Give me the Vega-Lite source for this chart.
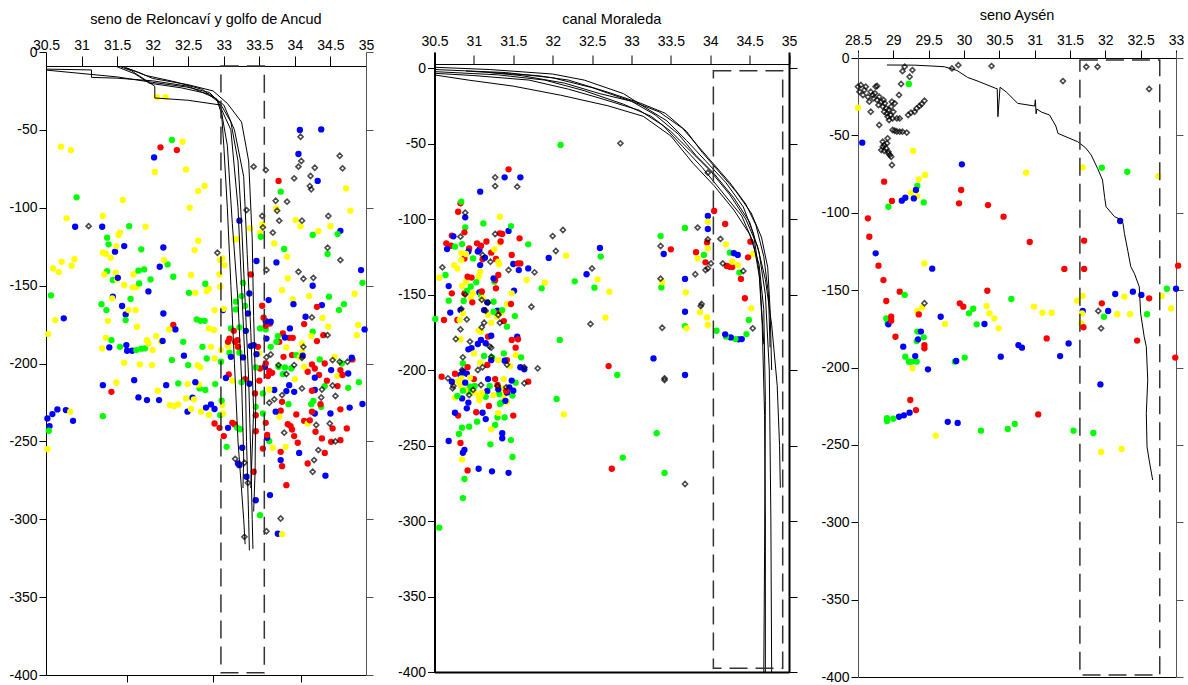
{
"$schema":"https://vega.github.io/schema/vega-lite/v6.json",
"padding":{"left":8,"top":7,"right":5,"bottom":0},
"spacing":68.5,
"bounds":"flush",
"config":{"view":{"stroke":null},"font":"Liberation Sans",
"axis":{"labelFont":"Liberation Sans","labelFontSize":14,"labelColor":"black","domainColor":"black","tickColor":"black","grid":false,"labelFlush":false,"labelOverlap":false,"domainWidth":1,"tickWidth":1},
"title":{"font":"Liberation Sans","fontSize":14.5,"fontWeight":"normal","color":"black","anchor":"middle"}},
"datasets":{
"p1r":[{"s":32.96,"s2":33.57,"d":-9,"d2":-398.6}],
"p2r":[{"s":34.04,"s2":34.92,"d":-1.8,"d2":-397.5}],
"p3r":[{"s":31.64,"s2":32.77,"d":-1.3,"d2":-398.7}],
"p1l":[
{"id":"A","i":1,"s":30.5,"d":-11},{"id":"A","i":2,"s":31.14,"d":-11.5},{"id":"A","i":3,"s":31.14,"d":-16.3},{"id":"A","i":4,"s":31.5,"d":-16.8},{"id":"A","i":5,"s":32.0,"d":-18.5},{"id":"A","i":6,"s":32.5,"d":-22},{"id":"A","i":7,"s":32.9,"d":-30},{"id":"A","i":8,"s":32.97,"d":-40},{"id":"A","i":9,"s":33.0,"d":-60},{"id":"A","i":10,"s":33.05,"d":-100},{"id":"A","i":11,"s":33.1,"d":-150},{"id":"A","i":12,"s":33.15,"d":-200},{"id":"A","i":13,"s":33.2,"d":-250},{"id":"A","i":14,"s":33.28,"d":-300},{"id":"A","i":15,"s":33.3,"d":-316},
{"id":"B","i":1,"s":30.5,"d":-11.6},{"id":"B","i":2,"s":31.5,"d":-16},{"id":"B","i":3,"s":32.0,"d":-19.5},{"id":"B","i":4,"s":32.48,"d":-22.5},{"id":"B","i":5,"s":32.8,"d":-26},{"id":"B","i":6,"s":32.95,"d":-33},{"id":"B","i":7,"s":33.1,"d":-45},{"id":"B","i":8,"s":33.2,"d":-70},{"id":"B","i":9,"s":33.25,"d":-110},{"id":"B","i":10,"s":33.3,"d":-160},{"id":"B","i":11,"s":33.35,"d":-210},{"id":"B","i":12,"s":33.38,"d":-260},{"id":"B","i":13,"s":33.4,"d":-300},{"id":"B","i":14,"s":33.41,"d":-319},
{"id":"C","i":1,"s":31.5,"d":-9.5},{"id":"C","i":2,"s":31.75,"d":-14},{"id":"C","i":3,"s":31.95,"d":-20},{"id":"C","i":4,"s":32.4,"d":-23},{"id":"C","i":5,"s":32.8,"d":-27},{"id":"C","i":6,"s":33.0,"d":-34},{"id":"C","i":7,"s":33.15,"d":-50},{"id":"C","i":8,"s":33.28,"d":-80},{"id":"C","i":9,"s":33.33,"d":-130},{"id":"C","i":10,"s":33.38,"d":-180},{"id":"C","i":11,"s":33.42,"d":-230},{"id":"C","i":12,"s":33.38,"d":-280},
{"id":"D","i":1,"s":31.6,"d":-10},{"id":"D","i":2,"s":31.8,"d":-13},{"id":"D","i":3,"s":32.0,"d":-17},{"id":"D","i":4,"s":32.5,"d":-21},{"id":"D","i":5,"s":32.85,"d":-25},{"id":"D","i":6,"s":33.05,"d":-33},{"id":"D","i":7,"s":33.25,"d":-45},{"id":"D","i":8,"s":33.35,"d":-70},{"id":"D","i":9,"s":33.4,"d":-120},{"id":"D","i":10,"s":33.42,"d":-170},{"id":"D","i":11,"s":33.45,"d":-220},{"id":"D","i":12,"s":33.44,"d":-270},{"id":"D","i":13,"s":33.42,"d":-295},
{"id":"E","i":1,"s":31.55,"d":-9.5},{"id":"E","i":2,"s":31.7,"d":-12},{"id":"E","i":3,"s":31.9,"d":-18},{"id":"E","i":4,"s":32.03,"d":-22},{"id":"E","i":5,"s":32.03,"d":-29.5},{"id":"E","i":6,"s":32.5,"d":-31},{"id":"E","i":7,"s":32.95,"d":-34},{"id":"E","i":8,"s":33.05,"d":-60},{"id":"E","i":9,"s":33.12,"d":-110},{"id":"E","i":10,"s":33.2,"d":-160},{"id":"E","i":11,"s":33.25,"d":-210},{"id":"E","i":12,"s":33.28,"d":-260},{"id":"E","i":13,"s":33.27,"d":-280},
{"id":"F","i":1,"s":31.62,"d":-10},{"id":"F","i":2,"s":31.9,"d":-15},{"id":"F","i":3,"s":32.3,"d":-19},{"id":"F","i":4,"s":32.7,"d":-24},{"id":"F","i":5,"s":32.92,"d":-32},{"id":"F","i":6,"s":33.1,"d":-50},{"id":"F","i":7,"s":33.2,"d":-100},{"id":"F","i":8,"s":33.25,"d":-150},{"id":"F","i":9,"s":33.3,"d":-200},{"id":"F","i":10,"s":33.32,"d":-250},{"id":"F","i":11,"s":33.35,"d":-300},{"id":"F","i":12,"s":33.36,"d":-320}
],
"p2l":[
{"id":"a","i":1,"s":30.5,"d":0.5},{"id":"a","i":2,"s":31.2,"d":-1},{"id":"a","i":3,"s":32.0,"d":-4},{"id":"a","i":4,"s":32.4,"d":-8},{"id":"a","i":5,"s":32.9,"d":-17},{"id":"a","i":6,"s":33.2,"d":-27},{"id":"a","i":7,"s":33.45,"d":-35},{"id":"a","i":8,"s":33.7,"d":-48},{"id":"a","i":9,"s":33.95,"d":-62},{"id":"a","i":10,"s":34.2,"d":-76},{"id":"a","i":11,"s":34.42,"d":-92},{"id":"a","i":12,"s":34.55,"d":-110},{"id":"a","i":13,"s":34.62,"d":-135},{"id":"a","i":14,"s":34.66,"d":-170},{"id":"a","i":15,"s":34.69,"d":-230},{"id":"a","i":16,"s":34.7,"d":-300},{"id":"a","i":17,"s":34.7,"d":-400},
{"id":"b","i":1,"s":30.5,"d":-1},{"id":"b","i":2,"s":31.4,"d":-3},{"id":"b","i":3,"s":32.0,"d":-6.5},{"id":"b","i":4,"s":32.5,"d":-13},{"id":"b","i":5,"s":33.0,"d":-22},{"id":"b","i":6,"s":33.3,"d":-31},{"id":"b","i":7,"s":33.6,"d":-44},{"id":"b","i":8,"s":33.82,"d":-58},{"id":"b","i":9,"s":34.05,"d":-70},{"id":"b","i":10,"s":34.3,"d":-86},{"id":"b","i":11,"s":34.5,"d":-102},{"id":"b","i":12,"s":34.62,"d":-122},{"id":"b","i":13,"s":34.7,"d":-150},{"id":"b","i":14,"s":34.75,"d":-200},{"id":"b","i":15,"s":34.77,"d":-300},{"id":"b","i":16,"s":34.78,"d":-400},
{"id":"c","i":1,"s":30.5,"d":-2.4},{"id":"c","i":2,"s":31.3,"d":-4.5},{"id":"c","i":3,"s":31.9,"d":-8},{"id":"c","i":4,"s":32.4,"d":-15},{"id":"c","i":5,"s":32.9,"d":-24},{"id":"c","i":6,"s":33.25,"d":-32},{"id":"c","i":7,"s":33.5,"d":-42},{"id":"c","i":8,"s":33.75,"d":-55},{"id":"c","i":9,"s":34.0,"d":-68},{"id":"c","i":10,"s":34.25,"d":-84},{"id":"c","i":11,"s":34.45,"d":-100},{"id":"c","i":12,"s":34.6,"d":-118},{"id":"c","i":13,"s":34.7,"d":-140},{"id":"c","i":14,"s":34.78,"d":-170},{"id":"c","i":15,"s":34.85,"d":-210},{"id":"c","i":16,"s":34.88,"d":-250},{"id":"c","i":17,"s":34.89,"d":-278},
{"id":"d","i":1,"s":30.5,"d":-3.5},{"id":"d","i":2,"s":31.0,"d":-5},{"id":"d","i":3,"s":31.7,"d":-8},{"id":"d","i":4,"s":32.2,"d":-14},{"id":"d","i":5,"s":32.6,"d":-20},{"id":"d","i":6,"s":33.1,"d":-28},{"id":"d","i":7,"s":33.4,"d":-38},{"id":"d","i":8,"s":33.65,"d":-52},{"id":"d","i":9,"s":33.9,"d":-66},{"id":"d","i":10,"s":34.15,"d":-82},{"id":"d","i":11,"s":34.4,"d":-98},{"id":"d","i":12,"s":34.55,"d":-116},{"id":"d","i":13,"s":34.63,"d":-140},{"id":"d","i":14,"s":34.68,"d":-183},
{"id":"e","i":1,"s":30.5,"d":-4.6},{"id":"e","i":2,"s":30.93,"d":-8},{"id":"e","i":3,"s":31.5,"d":-12},{"id":"e","i":4,"s":32.1,"d":-18},{"id":"e","i":5,"s":32.7,"d":-25},{"id":"e","i":6,"s":33.15,"d":-32},{"id":"e","i":7,"s":33.5,"d":-45},{"id":"e","i":8,"s":33.78,"d":-63},{"id":"e","i":9,"s":34.05,"d":-78},{"id":"e","i":10,"s":34.3,"d":-94},{"id":"e","i":11,"s":34.5,"d":-110},{"id":"e","i":12,"s":34.62,"d":-130},{"id":"e","i":13,"s":34.68,"d":-160},{"id":"e","i":14,"s":34.7,"d":-220},{"id":"e","i":15,"s":34.69,"d":-320},{"id":"e","i":16,"s":34.68,"d":-400},
{"id":"f","i":1,"s":30.9,"d":-2},{"id":"f","i":2,"s":31.8,"d":-5},{"id":"f","i":3,"s":32.2,"d":-8},{"id":"f","i":4,"s":32.7,"d":-16},{"id":"f","i":5,"s":33.1,"d":-23},{"id":"f","i":6,"s":33.43,"d":-30},{"id":"f","i":7,"s":33.7,"d":-42},{"id":"f","i":8,"s":33.9,"d":-56},{"id":"f","i":9,"s":34.1,"d":-68},{"id":"f","i":10,"s":34.33,"d":-82},{"id":"f","i":11,"s":34.52,"d":-96},{"id":"f","i":12,"s":34.65,"d":-112},{"id":"f","i":13,"s":34.73,"d":-132},{"id":"f","i":14,"s":34.76,"d":-160},{"id":"f","i":15,"s":34.78,"d":-200},
{"id":"g","i":1,"s":31.2,"d":-3},{"id":"g","i":2,"s":31.6,"d":-5},{"id":"g","i":3,"s":32.15,"d":-10},{"id":"g","i":4,"s":32.6,"d":-17},{"id":"g","i":5,"s":33.0,"d":-22},{"id":"g","i":6,"s":33.35,"d":-29},{"id":"g","i":7,"s":33.65,"d":-40},{"id":"g","i":8,"s":33.85,"d":-52},{"id":"g","i":9,"s":34.0,"d":-61},{"id":"g","i":10,"s":34.25,"d":-76},{"id":"g","i":11,"s":34.45,"d":-90},{"id":"g","i":12,"s":34.58,"d":-104},{"id":"g","i":13,"s":34.68,"d":-125},{"id":"g","i":14,"s":34.74,"d":-150},{"id":"g","i":15,"s":34.76,"d":-185}
],
"p3l":[
{"id":"a","i":1,"s":28.91,"d":-4.5},{"id":"a","i":2,"s":29.3,"d":-4.6},{"id":"a","i":3,"s":29.72,"d":-5.6},{"id":"a","i":4,"s":29.9,"d":-8},{"id":"a","i":5,"s":30.05,"d":-12.5},{"id":"a","i":6,"s":30.2,"d":-15},{"id":"a","i":7,"s":30.45,"d":-19.6},{"id":"a","i":8,"s":30.47,"d":-19.8},{"id":"a","i":9,"s":30.48,"d":-37.9},{"id":"a","i":10,"s":30.51,"d":-18.9},{"id":"a","i":11,"s":30.6,"d":-22},{"id":"a","i":12,"s":30.76,"d":-29.3},{"id":"a","i":13,"s":31.0,"d":-31},{"id":"a","i":14,"s":31.01,"d":-27},{"id":"a","i":15,"s":31.02,"d":-36},{"id":"a","i":16,"s":31.03,"d":-33},{"id":"a","i":17,"s":31.1,"d":-35},{"id":"a","i":18,"s":31.21,"d":-36.8},{"id":"a","i":19,"s":31.3,"d":-44},{"id":"a","i":20,"s":31.33,"d":-48.7},{"id":"a","i":21,"s":31.5,"d":-52},{"id":"a","i":22,"s":31.61,"d":-54.1},{"id":"a","i":23,"s":31.72,"d":-58},{"id":"a","i":24,"s":31.8,"d":-62.7},{"id":"a","i":25,"s":31.89,"d":-71.3},{"id":"a","i":26,"s":31.96,"d":-78.8},{"id":"a","i":27,"s":31.99,"d":-90},{"id":"a","i":28,"s":32.01,"d":-96.1},{"id":"a","i":29,"s":32.13,"d":-102.5},{"id":"a","i":30,"s":32.2,"d":-104},{"id":"a","i":31,"s":32.25,"d":-106.8},{"id":"a","i":32,"s":32.27,"d":-113.3},{"id":"a","i":33,"s":32.32,"d":-125},{"id":"a","i":34,"s":32.36,"d":-134.8},{"id":"a","i":35,"s":32.41,"d":-139.1},{"id":"a","i":36,"s":32.48,"d":-147.8},{"id":"a","i":37,"s":32.5,"d":-165},{"id":"a","i":38,"s":32.55,"d":-180.1},{"id":"a","i":39,"s":32.58,"d":-186.5},{"id":"a","i":40,"s":32.6,"d":-208},{"id":"a","i":41,"s":32.58,"d":-229.7},{"id":"a","i":42,"s":32.59,"d":-251.2},{"id":"a","i":43,"s":32.62,"d":-259.8},{"id":"a","i":44,"s":32.67,"d":-272.7}
],
"p1p":[
{"s":32.06,"d":-29,"c":"y"},{"s":32.18,"d":-29,"c":"y"},{"s":30.71,"d":-60.8,"c":"y"},{"s":30.85,"d":-63,"c":"y"},{"s":32.27,"d":-56.5,"c":"g"},{"s":32.11,"d":-61.2,"c":"r"},{"s":32.34,"d":-63,"c":"r"},{"s":32.42,"d":-57.6,"c":"y"},{"s":32.02,"d":-67.7,"c":"b"},{"s":32.03,"d":-77,"c":"y"},{"s":32.47,"d":-75.4,"c":"y"},{"s":32.64,"d":-89.3,"c":"y"},{"s":32.73,"d":-86,"c":"y"},{"s":32.52,"d":-100,"c":"y"},{"s":30.93,"d":-93.3,"c":"g"},{"s":31.58,"d":-95,"c":"y"},{"s":30.79,"d":-106.8,"c":"y"},{"s":30.91,"d":-112.2,"c":"b"},{"s":31.1,"d":-111.8,"c":"k"},{"s":31.29,"d":-112.2,"c":"b"},{"s":31.3,"d":-105.3,"c":"y"},{"s":31.67,"d":-111.8,"c":"g"},{"s":31.9,"d":-112.2,"c":"y"},{"s":31.36,"d":-119.2,"c":"g"},{"s":31.38,"d":-123.5,"c":"g"},{"s":31.3,"d":-128.9,"c":"y"},{"s":31.34,"d":-129.5,"c":"y"},{"s":31.47,"d":-128.2,"c":"b"},{"s":31.49,"d":-124.6,"c":"y"},{"s":31.54,"d":-116,"c":"y"},{"s":31.52,"d":-117.5,"c":"y"},{"s":31.6,"d":-124.6,"c":"b"},{"s":31.84,"d":-126.7,"c":"g"},{"s":31.41,"d":-132.1,"c":"y"},{"s":32.15,"d":-125.5,"c":"b"},{"s":32.21,"d":-136.4,"c":"g"},{"s":32.16,"d":-133.6,"c":"y"},{"s":32.1,"d":-137.9,"c":"b"},{"s":32.59,"d":-127.2,"c":"y"},{"s":32.64,"d":-121.2,"c":"y"},{"s":30.6,"d":-139,"c":"y"},{"s":30.68,"d":-141.3,"c":"y"},{"s":30.72,"d":-134.7,"c":"y"},{"s":30.9,"d":-133,"c":"y"},{"s":30.86,"d":-137.2,"c":"y"},{"s":30.57,"d":-156.3,"c":"g"},{"s":30.75,"d":-171,"c":"b"},{"s":30.63,"d":-172.1,"c":"y"},{"s":30.53,"d":-181.1,"c":"y"},{"s":31.36,"d":-140.7,"c":"g"},{"s":31.44,"d":-146.4,"c":"g"},{"s":31.32,"d":-142.8,"c":"y"},{"s":31.5,"d":-146,"c":"y"},{"s":31.48,"d":-141.7,"c":"y"},{"s":31.51,"d":-145,"c":"b"},{"s":31.6,"d":-149.6,"c":"y"},{"s":31.73,"d":-142.8,"c":"y"},{"s":31.8,"d":-140.4,"c":"g"},{"s":31.88,"d":-139.6,"c":"g"},{"s":31.72,"d":-151.1,"c":"y"},{"s":31.77,"d":-151.1,"c":"y"},{"s":31.81,"d":-148.6,"c":"g"},{"s":31.97,"d":-146,"c":"g"},{"s":31.94,"d":-153.7,"c":"b"},{"s":32.29,"d":-144.3,"c":"g"},{"s":32.54,"d":-143.2,"c":"y"},{"s":32.51,"d":-154.6,"c":"g"},{"s":32.6,"d":-154.6,"c":"y"},{"s":32.76,"d":-153.5,"c":"y"},{"s":32.79,"d":-152,"c":"y"},{"s":32.74,"d":-148.8,"c":"g"},{"s":32.95,"d":-150.7,"c":"y"},{"s":32.94,"d":-142.8,"c":"y"},{"s":32.95,"d":-133.6,"c":"y"},{"s":32.98,"d":-132.5,"c":"y"},{"s":33.01,"d":-136.8,"c":"y"},{"s":32.91,"d":-128.9,"c":"k"},{"s":33.15,"d":-120.3,"c":"y"},{"s":33.19,"d":-120.3,"c":"y"},{"s":33.22,"d":-108.3,"c":"b"},{"s":33.37,"d":-113.2,"c":"y"},{"s":33.51,"d":-116,"c":"y"},{"s":33.46,"d":-134.2,"c":"b"},{"s":33.38,"d":-142.8,"c":"r"},{"s":33.54,"d":-110.7,"c":"y"},{"s":33.52,"d":-118.6,"c":"g"},{"s":33.32,"d":-101.5,"c":"k"},{"s":33.42,"d":-73.6,"c":"k"},{"s":33.59,"d":-75.8,"c":"k"},{"s":33.55,"d":-112.6,"c":"k"},{"s":33.54,"d":-105.3,"c":"k"},{"s":33.6,"d":-140,"c":"k"},{"s":33.77,"d":-82.8,"c":"r"},{"s":33.8,"d":-89.7,"c":"g"},{"s":33.73,"d":-95.5,"c":"k"},{"s":33.89,"d":-96.1,"c":"k"},{"s":33.74,"d":-100.4,"c":"y"},{"s":33.75,"d":-101.9,"c":"k"},{"s":33.78,"d":-108.3,"c":"k"},{"s":33.69,"d":-116,"c":"k"},{"s":33.71,"d":-122.9,"c":"y"},{"s":33.74,"d":-135.1,"c":"b"},{"s":33.85,"d":-126.5,"c":"g"},{"s":33.89,"d":-131.4,"c":"y"},{"s":33.9,"d":-145.4,"c":"y"},{"s":33.82,"d":-152.9,"c":"y"},{"s":34.07,"d":-50.1,"c":"b"},{"s":34.37,"d":-49.7,"c":"b"},{"s":34.08,"d":-54.4,"c":"k"},{"s":34.05,"d":-65.5,"c":"b"},{"s":34.05,"d":-73.6,"c":"k"},{"s":34.09,"d":-70,"c":"k"},{"s":33.99,"d":-81.1,"c":"k"},{"s":34.22,"d":-79.6,"c":"k"},{"s":34.28,"d":-74.3,"c":"k"},{"s":34.21,"d":-86.1,"c":"k"},{"s":34.23,"d":-88.2,"c":"k"},{"s":34.32,"d":-82.8,"c":"b"},{"s":34.63,"d":-66.6,"c":"k"},{"s":34.67,"d":-74.7,"c":"k"},{"s":34.72,"d":-87.6,"c":"y"},{"s":34.78,"d":-101.9,"c":"y"},{"s":34.1,"d":-108.3,"c":"k"},{"s":34.01,"d":-107.9,"c":"y"},{"s":34.08,"d":-111.8,"c":"y"},{"s":34.47,"d":-105.3,"c":"k"},{"s":34.5,"d":-111.8,"c":"y"},{"s":34.33,"d":-115,"c":"y"},{"s":34.25,"d":-117.5,"c":"g"},{"s":34.64,"d":-114.8,"c":"b"},{"s":34.6,"d":-116.9,"c":"g"},{"s":34.46,"d":-125.7,"c":"k"},{"s":34.46,"d":-129.7,"c":"g"},{"s":34.64,"d":-133.6,"c":"k"},{"s":34.05,"d":-141.1,"c":"k"},{"s":34.12,"d":-145.6,"c":"k"},{"s":34.26,"d":-145,"c":"k"},{"s":34.25,"d":-150.1,"c":"b"},{"s":34.2,"d":-156.7,"c":"y"},{"s":34.38,"d":-162.5,"c":"b"},{"s":34.31,"d":-163.6,"c":"r"},{"s":34.48,"d":-157.1,"c":"g"},{"s":34.62,"d":-165.7,"c":"g"},{"s":34.69,"d":-161.9,"c":"g"},{"s":34.84,"d":-155.2,"c":"y"},{"s":34.95,"d":-148.2,"c":"g"},{"s":34.93,"d":-140,"c":"b"},{"s":33.97,"d":-158.9,"c":"y"},{"s":33.98,"d":-161.9,"c":"b"},{"s":33.63,"d":-159.3,"c":"b"},{"s":34.24,"d":-170.4,"c":"k"},{"s":34.15,"d":-170,"c":"b"},{"s":34.39,"d":-170.8,"c":"y"},{"s":34.13,"d":-174.7,"c":"r"},{"s":34.47,"d":-176.4,"c":"y"},{"s":34.89,"d":-175.3,"c":"y"},{"s":34.87,"d":-181.8,"c":"y"},{"s":34.98,"d":-178.1,"c":"b"},{"s":34.46,"d":-181.8,"c":"k"},{"s":34.4,"d":-181.8,"c":"r"},{"s":34.31,"d":-185.6,"c":"r"},{"s":34.25,"d":-179.6,"c":"g"},{"s":34.23,"d":-182.4,"c":"y"},{"s":34.1,"d":-187.1,"c":"y"},{"s":34.12,"d":-189.3,"c":"k"},
{"s":31.28,"d":-161.9,"c":"g"},{"s":31.35,"d":-165.7,"c":"g"},{"s":31.44,"d":-157.1,"c":"b"},{"s":31.43,"d":-158.2,"c":"y"},{"s":31.57,"d":-163.1,"c":"b"},{"s":31.62,"d":-168.5,"c":"b"},{"s":31.62,"d":-172.1,"c":"g"},{"s":31.66,"d":-165.7,"c":"y"},{"s":31.76,"d":-165.7,"c":"y"},{"s":31.69,"d":-158.6,"c":"g"},{"s":32.15,"d":-167.9,"c":"b"},{"s":31.37,"d":-172.6,"c":"y"},{"s":31.78,"d":-176.4,"c":"y"},{"s":31.34,"d":-183.5,"c":"y"},{"s":31.29,"d":-190.3,"c":"y"},{"s":31.42,"d":-185,"c":"g"},{"s":31.39,"d":-189.7,"c":"b"},{"s":31.54,"d":-189.3,"c":"g"},{"s":31.63,"d":-188.2,"c":"b"},{"s":31.64,"d":-191.8,"c":"b"},{"s":31.6,"d":-199.5,"c":"y"},{"s":31.71,"d":-191.8,"c":"b"},{"s":31.77,"d":-191.4,"c":"g"},{"s":31.84,"d":-190.5,"c":"g"},{"s":31.89,"d":-190.3,"c":"g"},{"s":31.92,"d":-185,"c":"y"},{"s":31.94,"d":-187.1,"c":"y"},{"s":32.05,"d":-182.4,"c":"y"},{"s":32.0,"d":-191.4,"c":"y"},{"s":31.82,"d":-200.6,"c":"y"},{"s":31.99,"d":-201,"c":"y"},{"s":32.29,"d":-175.3,"c":"r"},{"s":32.32,"d":-178.1,"c":"b"},{"s":32.23,"d":-178.1,"c":"y"},{"s":32.12,"d":-186.1,"c":"y"},{"s":32.14,"d":-185.5,"c":"b"},{"s":32.43,"d":-186.1,"c":"g"},{"s":32.27,"d":-197.8,"c":"g"},{"s":32.44,"d":-195,"c":"b"},{"s":32.5,"d":-201,"c":"g"},{"s":32.63,"d":-201,"c":"y"},{"s":32.67,"d":-202.5,"c":"y"},{"s":32.62,"d":-171.7,"c":"g"},{"s":32.67,"d":-172.6,"c":"g"},{"s":32.73,"d":-172.6,"c":"g"},{"s":32.7,"d":-189.3,"c":"g"},{"s":32.79,"d":-177.5,"c":"y"},{"s":32.82,"d":-189.3,"c":"y"},{"s":32.86,"d":-178.5,"c":"y"},{"s":32.76,"d":-196.8,"c":"g"},{"s":32.87,"d":-196.8,"c":"y"},{"s":32.96,"d":-191.4,"c":"y"},{"s":32.96,"d":-198.9,"c":"g"},{"s":32.99,"d":-165.7,"c":"b"},{"s":33.0,"d":-164.9,"c":"y"},{"s":32.87,"d":-165.7,"c":"y"},{"s":33.1,"d":-177.5,"c":"g"},{"s":33.17,"d":-165.3,"c":"g"},{"s":33.06,"d":-188.8,"c":"y"},{"s":33.19,"d":-189.3,"c":"y"},{"s":33.19,"d":-185,"c":"r"},{"s":33.16,"d":-186.1,"c":"r"},{"s":33.06,"d":-186.1,"c":"r"},{"s":33.2,"d":-189.3,"c":"r"},{"s":33.08,"d":-193.1,"c":"g"},{"s":33.22,"d":-193.1,"c":"g"},{"s":33.27,"d":-196.1,"c":"b"},
{"s":33.78,"d":-186.1,"c":"r"},{"s":33.83,"d":-180.7,"c":"r"},{"s":33.92,"d":-183.5,"c":"r"},{"s":33.97,"d":-183.5,"c":"r"},{"s":33.86,"d":-183.3,"c":"b"},{"s":33.93,"d":-177.5,"c":"b"},{"s":33.76,"d":-182.4,"c":"g"},{"s":33.74,"d":-186.1,"c":"g"},{"s":33.66,"d":-189.3,"c":"g"},{"s":33.6,"d":-184,"c":"b"},{"s":33.59,"d":-178.1,"c":"g"},{"s":33.65,"d":-174.3,"c":"r"},{"s":33.66,"d":-173.2,"c":"b"},{"s":33.59,"d":-175.8,"c":"r"},{"s":33.59,"d":-172.8,"c":"b"},{"s":33.56,"d":-170.6,"c":"r"},{"s":33.54,"d":-162.9,"c":"r"},{"s":33.51,"d":-177.5,"c":"g"},{"s":33.5,"d":-193.5,"c":"y"},{"s":33.66,"d":-194.2,"c":"k"},{"s":33.84,"d":-195.7,"c":"r"},{"s":33.88,"d":-189.7,"c":"y"},{"s":33.96,"d":-194.6,"c":"r"},{"s":34.02,"d":-194.6,"c":"g"},{"s":34.07,"d":-196.1,"c":"y"},{"s":34.1,"d":-192.5,"c":"y"},{"s":34.11,"d":-195,"c":"b"},{"s":33.86,"d":-202.5,"c":"g"},{"s":33.77,"d":-202.1,"c":"g"},{"s":33.83,"d":-206.8,"c":"g"},{"s":33.68,"d":-206,"c":"r"},{"s":33.64,"d":-204.9,"c":"r"},{"s":33.58,"d":-202.1,"c":"b"},{"s":33.62,"d":-208.1,"c":"r"},{"s":33.59,"d":-200,"c":"r"},{"s":33.6,"d":-196,"c":"k"},{"s":33.77,"d":-201,"c":"k"},{"s":33.88,"d":-206.8,"c":"k"},{"s":33.99,"d":-201,"c":"k"},{"s":33.95,"d":-203.2,"c":"g"},{"s":34.1,"d":-196.3,"c":"k"},{"s":34.24,"d":-200.6,"c":"r"},{"s":34.28,"d":-203.2,"c":"r"},{"s":34.18,"d":-205.3,"c":"r"},{"s":34.13,"d":-202.1,"c":"y"},{"s":34.34,"d":-207.4,"c":"r"},{"s":34.28,"d":-209.1,"c":"b"},{"s":34.35,"d":-197.4,"c":"g"},{"s":34.42,"d":-200,"c":"r"},{"s":34.51,"d":-204.2,"c":"b"},{"s":34.53,"d":-197.8,"c":"k"},{"s":34.63,"d":-198.9,"c":"k"},{"s":34.56,"d":-195.7,"c":"y"},{"s":34.81,"d":-197.4,"c":"r"},{"s":34.8,"d":-196.3,"c":"b"},{"s":34.66,"d":-200,"c":"g"},{"s":34.74,"d":-198.9,"c":"k"},{"s":34.64,"d":-204.2,"c":"r"},{"s":34.6,"d":-208.1,"c":"y"},{"s":34.67,"d":-207.4,"c":"r"},{"s":34.75,"d":-206.4,"c":"b"},{"s":33.22,"d":-176.8,"c":"g"},{"s":33.14,"d":-179,"c":"r"},{"s":33.08,"d":-184.1,"c":"r"},{"s":33.1,"d":-195.7,"c":"b"},{"s":33.07,"d":-207,"c":"r"},{"s":33.03,"d":-209.3,"c":"b"},{"s":33.31,"d":-179,"c":"b"},{"s":33.34,"d":-167.9,"c":"b"},{"s":33.25,"d":-156.7,"c":"g"},{"s":33.36,"d":-155,"c":"b"},{"s":33.27,"d":-148.3,"c":"g"},{"s":33.3,"d":-163.1,"c":"g"},{"s":33.17,"d":-160.3,"c":"g"},{"s":33.38,"d":-188.8,"c":"b"},{"s":33.48,"d":-189.3,"c":"r"},{"s":33.42,"d":-188.2,"c":"b"},{"s":33.51,"d":-203.2,"c":"r"},{"s":33.45,"d":-202.5,"c":"g"},{"s":33.46,"d":-194,"c":"b"},
{"s":31.3,"d":-213.9,"c":"b"},{"s":31.49,"d":-212.2,"c":"y"},{"s":31.42,"d":-218.2,"c":"r"},{"s":31.74,"d":-210.7,"c":"b"},{"s":31.8,"d":-221.8,"c":"b"},{"s":31.92,"d":-223.5,"c":"b"},{"s":32.09,"d":-223.5,"c":"b"},{"s":32.07,"d":-217.5,"c":"y"},{"s":32.19,"d":-213.9,"c":"b"},{"s":32.36,"d":-212.8,"c":"g"},{"s":32.49,"d":-213.2,"c":"y"},{"s":32.24,"d":-226.7,"c":"y"},{"s":32.3,"d":-227.3,"c":"y"},{"s":32.36,"d":-226.3,"c":"y"},{"s":32.47,"d":-222.4,"c":"y"},{"s":32.56,"d":-222,"c":"b"},{"s":32.58,"d":-223.1,"c":"y"},{"s":32.49,"d":-230.9,"c":"b"},{"s":32.54,"d":-229.2,"c":"y"},{"s":32.68,"d":-230.9,"c":"y"},{"s":32.75,"d":-228.3,"c":"b"},{"s":32.82,"d":-226.3,"c":"b"},{"s":32.87,"d":-229.2,"c":"b"},{"s":32.79,"d":-233,"c":"y"},{"s":32.66,"d":-216,"c":"g"},{"s":32.74,"d":-217,"c":"g"},{"s":32.65,"d":-213.6,"c":"y"},{"s":32.6,"d":-212,"c":"b"},{"s":32.88,"d":-213.2,"c":"g"},{"s":32.95,"d":-233.2,"c":"g"},{"s":32.87,"d":-238.5,"c":"r"},{"s":32.94,"d":-241.3,"c":"r"},{"s":33.0,"d":-246.6,"c":"r"},{"s":33.04,"d":-253.5,"c":"g"},{"s":32.99,"d":-232.1,"c":"y"},{"s":32.98,"d":-226.7,"c":"y"},{"s":32.97,"d":-223.8,"c":"g"},{"s":33.06,"d":-241.3,"c":"b"},{"s":33.12,"d":-238.1,"c":"r"},{"s":33.15,"d":-239,"c":"r"},{"s":33.19,"d":-241.3,"c":"g"},{"s":33.23,"d":-242.2,"c":"g"},{"s":33.26,"d":-254.1,"c":"b"},{"s":33.2,"d":-264.2,"c":"b"},{"s":33.22,"d":-265.3,"c":"b"},{"s":33.16,"d":-261.2,"c":"k"},{"s":33.29,"d":-263.7,"c":"k"},{"s":33.32,"d":-272.7,"c":"b"},{"s":33.34,"d":-276.6,"c":"k"},{"s":33.42,"d":-269.5,"c":"r"},{"s":33.45,"d":-287.8,"c":"b"},{"s":33.51,"d":-297.4,"c":"g"},{"s":33.29,"d":-311.3,"c":"k"},{"s":33.6,"d":-307.7,"c":"k"},{"s":33.8,"d":-299.5,"c":"k"},{"s":33.76,"d":-309.3,"c":"b"},{"s":33.82,"d":-309.6,"c":"y"},{"s":33.65,"d":-284.5,"c":"b"},{"s":33.55,"d":-254.6,"c":"r"},{"s":33.59,"d":-238.1,"c":"r"},{"s":33.45,"d":-243.5,"c":"r"},{"s":33.45,"d":-227.8,"c":"g"},{"s":33.55,"d":-232.1,"c":"g"},{"s":33.45,"d":-233.2,"c":"r"},{"s":33.44,"d":-219.2,"c":"r"},{"s":33.88,"d":-278.1,"c":"r"},{"s":33.82,"d":-265.9,"c":"r"},{"s":33.8,"d":-262,"c":"b"},{"s":33.8,"d":-256.7,"c":"r"},{"s":33.69,"d":-254.1,"c":"y"},{"s":33.87,"d":-253.5,"c":"y"},{"s":33.64,"d":-249.8,"c":"g"},{"s":33.61,"d":-247.7,"c":"b"},{"s":33.61,"d":-245.9,"c":"r"},{"s":33.85,"d":-244.4,"c":"k"},{"s":34.06,"d":-257.4,"c":"b"},{"s":34.04,"d":-250.9,"c":"r"},{"s":33.99,"d":-246.6,"c":"r"},{"s":33.96,"d":-242.4,"c":"r"},{"s":33.94,"d":-240.2,"c":"r"},{"s":33.9,"d":-239,"c":"r"},{"s":34.02,"d":-232.7,"c":"r"},{"s":33.91,"d":-226.1,"c":"g"},{"s":33.8,"d":-230.3,"c":"r"},{"s":33.78,"d":-234.2,"c":"y"},{"s":33.73,"d":-230.9,"c":"b"},{"s":34.13,"d":-236.8,"c":"r"},{"s":34.18,"d":-264.2,"c":"r"},{"s":34.25,"d":-269.5,"c":"k"},{"s":34.27,"d":-262,"c":"k"},{"s":34.43,"d":-272,"c":"b"},{"s":34.42,"d":-257.4,"c":"r"},{"s":34.33,"d":-255.6,"c":"k"},{"s":34.38,"d":-248.1,"c":"r"},{"s":34.29,"d":-243.8,"c":"r"},{"s":34.3,"d":-239.5,"c":"k"},{"s":34.18,"d":-238.5,"c":"y"},{"s":34.21,"d":-236.5,"c":"r"},{"s":34.23,"d":-226.1,"c":"g"},{"s":34.26,"d":-224,"c":"g"},{"s":34.37,"d":-227.8,"c":"g"},{"s":34.36,"d":-226.1,"c":"r"},{"s":34.28,"d":-232.1,"c":"b"},{"s":34.24,"d":-231,"c":"r"},{"s":34.5,"d":-232.1,"c":"b"},{"s":34.53,"d":-241.7,"c":"r"},{"s":34.49,"d":-238.5,"c":"k"},{"s":34.51,"d":-250.3,"c":"r"},{"s":34.57,"d":-250,"c":"k"},{"s":34.64,"d":-249.2,"c":"r"},{"s":34.73,"d":-241.7,"c":"r"},{"s":34.77,"d":-228.3,"c":"b"},{"s":34.64,"d":-229.4,"c":"r"},{"s":34.57,"d":-220.9,"c":"k"},{"s":34.37,"d":-221.8,"c":"k"},{"s":34.75,"d":-215.6,"c":"g"},{"s":34.6,"d":-214.5,"c":"r"},{"s":34.53,"d":-214.1,"c":"k"},{"s":34.42,"d":-214.5,"c":"g"},{"s":34.38,"d":-216.7,"c":"k"},{"s":34.28,"d":-217,"c":"b"},{"s":34.24,"d":-217.5,"c":"r"},{"s":34.1,"d":-216,"c":"k"},{"s":33.99,"d":-218.2,"c":"b"},{"s":33.92,"d":-213.9,"c":"b"},{"s":33.82,"d":-220.3,"c":"k"},{"s":33.71,"d":-223,"c":"k"},{"s":33.64,"d":-225.2,"c":"k"},{"s":33.82,"d":-224.6,"c":"r"},{"s":33.71,"d":-217,"c":"b"},{"s":33.88,"d":-217.7,"c":"b"},{"s":33.64,"d":-216.7,"c":"y"},{"s":33.55,"d":-219.2,"c":"g"},{"s":30.52,"d":-235.3,"c":"b"},{"s":30.55,"d":-240.2,"c":"b"},{"s":30.54,"d":-243.2,"c":"g"},{"s":30.59,"d":-232.5,"c":"b"},{"s":30.66,"d":-229.5,"c":"b"},{"s":30.78,"d":-229.9,"c":"b"},{"s":30.84,"d":-231,"c":"y"},{"s":30.88,"d":-236.8,"c":"b"},{"s":30.52,"d":-255,"c":"y"},{"s":31.3,"d":-233.8,"c":"g"},{"s":33.3,"d":-210,"c":"r"},{"s":33.25,"d":-212,"c":"g"},{"s":33.36,"d":-213,"c":"b"},{"s":33.12,"d":-211,"c":"y"},{"s":33.5,"d":-211,"c":"r"},{"s":34.0,"d":-210,"c":"y"},{"s":34.45,"d":-211,"c":"r"},{"s":34.9,"d":-212,"c":"g"},{"s":34.95,"d":-226,"c":"b"}
],
"p2p":[
{"s":31.44,"d":-67.1,"c":"r"},{"s":31.39,"d":-72.4,"c":"b"},{"s":31.59,"d":-72.4,"c":"b"},{"s":31.27,"d":-72.4,"c":"k"},{"s":31.27,"d":-78.2,"c":"k"},{"s":31.55,"d":-78.6,"c":"k"},{"s":31.08,"d":-81.9,"c":"b"},{"s":30.83,"d":-89.6,"c":"r"},{"s":30.84,"d":-88.5,"c":"g"},{"s":30.8,"d":-95.2,"c":"r"},{"s":30.89,"d":-95.8,"c":"k"},{"s":30.89,"d":-98.9,"c":"b"},{"s":30.89,"d":-105.5,"c":"g"},{"s":30.88,"d":-108.8,"c":"r"},{"s":31.12,"d":-102.9,"c":"g"},{"s":30.83,"d":-111.7,"c":"k"},{"s":30.72,"d":-111,"c":"r"},{"s":30.74,"d":-111.5,"c":"b"},{"s":30.65,"d":-116.1,"c":"r"},{"s":30.71,"d":-117.7,"c":"r"},{"s":30.66,"d":-119.9,"c":"b"},{"s":30.76,"d":-118.3,"c":"g"},{"s":30.85,"d":-116.6,"c":"g"},{"s":30.84,"d":-122.7,"c":"y"},{"s":30.88,"d":-126.1,"c":"r"},{"s":30.94,"d":-119.5,"c":"r"},{"s":30.93,"d":-121.6,"c":"b"},{"s":30.9,"d":-123.2,"c":"y"},{"s":30.84,"d":-127.2,"c":"y"},{"s":30.99,"d":-126.1,"c":"g"},{"s":31.04,"d":-116.1,"c":"r"},{"s":31.05,"d":-121.6,"c":"b"},{"s":31.07,"d":-120.3,"c":"b"},{"s":31.09,"d":-117.7,"c":"r"},{"s":31.11,"d":-123.8,"c":"k"},{"s":31.11,"d":-126.7,"c":"r"},{"s":31.14,"d":-125.6,"c":"b"},{"s":31.16,"d":-114.9,"c":"r"},{"s":31.22,"d":-122.3,"c":"r"},{"s":31.26,"d":-120.1,"c":"y"},{"s":31.28,"d":-126.5,"c":"r"},{"s":31.21,"d":-128.3,"c":"k"},{"s":31.31,"d":-128.3,"c":"y"},{"s":31.33,"d":-109.5,"c":"r"},{"s":31.36,"d":-109.9,"c":"r"},{"s":31.27,"d":-109.9,"c":"k"},{"s":31.33,"d":-115.7,"c":"y"},{"s":31.34,"d":-114.9,"c":"r"},{"s":31.44,"d":-107.9,"c":"b"},{"s":31.47,"d":-104.7,"c":"g"},{"s":31.33,"d":-98.5,"c":"y"},{"s":31.58,"d":-112.8,"c":"r"},{"s":31.69,"d":-116.8,"c":"g"},{"s":31.48,"d":-123.8,"c":"r"},{"s":31.5,"d":-129.8,"c":"b"},{"s":31.56,"d":-129.4,"c":"r"},{"s":31.59,"d":-129.4,"c":"r"},{"s":31.44,"d":-133.8,"c":"k"},{"s":31.57,"d":-133.8,"c":"b"},{"s":31.67,"d":-140.4,"c":"y"},{"s":30.6,"d":-132,"c":"k"},{"s":30.56,"d":-138.9,"c":"y"},{"s":30.64,"d":-137.1,"c":"g"},{"s":30.75,"d":-130.5,"c":"y"},{"s":30.79,"d":-132.7,"c":"y"},{"s":30.68,"d":-144.4,"c":"b"},{"s":30.68,"d":-154.1,"c":"g"},{"s":30.72,"d":-149.2,"c":"r"},{"s":30.7,"d":-162,"c":"b"},{"s":30.51,"d":-166.2,"c":"g"},{"s":30.62,"d":-166.9,"c":"r"},{"s":30.79,"d":-166.9,"c":"r"},{"s":30.82,"d":-166.9,"c":"y"},{"s":30.83,"d":-160.3,"c":"b"},{"s":30.84,"d":-159.5,"c":"k"},{"s":30.91,"d":-166.5,"c":"k"},{"s":30.86,"d":-162.5,"c":"y"},{"s":30.83,"d":-179.7,"c":"y"},{"s":30.77,"d":-179.5,"c":"k"},{"s":30.83,"d":-173.1,"c":"k"},{"s":30.87,"d":-154.3,"c":"g"},{"s":30.88,"d":-149.2,"c":"r"},{"s":30.89,"d":-150,"c":"k"},{"s":30.85,"d":-144.4,"c":"y"},{"s":30.9,"d":-141.5,"c":"y"},{"s":30.91,"d":-147.7,"c":"g"},{"s":30.96,"d":-144.8,"c":"g"},{"s":30.92,"d":-138.2,"c":"r"},{"s":30.99,"d":-149.2,"c":"y"},{"s":30.96,"d":-152.5,"c":"y"},{"s":30.98,"d":-155.2,"c":"r"},{"s":30.97,"d":-138.8,"c":"r"},{"s":31.06,"d":-138.2,"c":"y"},{"s":31.08,"d":-134.9,"c":"y"},{"s":31.08,"d":-130.5,"c":"b"},{"s":31.07,"d":-148.6,"c":"b"},{"s":31.03,"d":-141.9,"c":"g"},{"s":31.09,"d":-150.3,"c":"g"},{"s":31.1,"d":-148,"c":"r"},{"s":31.11,"d":-152.5,"c":"y"},{"s":31.1,"d":-153.6,"c":"k"},{"s":31.17,"d":-155.2,"c":"b"},{"s":31.13,"d":-160.3,"c":"b"},{"s":31.15,"d":-160.7,"c":"k"},{"s":31.18,"d":-155.4,"c":"k"},{"s":31.18,"d":-163.6,"c":"y"},{"s":31.22,"d":-168.7,"c":"y"},{"s":31.33,"d":-168.7,"c":"k"},{"s":31.38,"d":-167.6,"c":"r"},{"s":31.35,"d":-161.8,"c":"y"},{"s":31.3,"d":-160.7,"c":"b"},{"s":31.31,"d":-162.5,"c":"r"},{"s":31.31,"d":-163.6,"c":"k"},{"s":31.29,"d":-164.7,"c":"y"},{"s":31.18,"d":-177.9,"c":"r"},{"s":31.22,"d":-177.3,"c":"b"},{"s":31.25,"d":-161.4,"c":"g"},{"s":31.25,"d":-154.8,"c":"g"},{"s":31.26,"d":-141.5,"c":"g"},{"s":31.27,"d":-140.4,"c":"r"},{"s":31.28,"d":-145.9,"c":"r"},{"s":31.25,"d":-139.3,"c":"b"},{"s":31.31,"d":-137.1,"c":"r"},{"s":31.32,"d":-130,"c":"y"},{"s":31.42,"d":-156.3,"c":"y"},{"s":31.36,"d":-160.3,"c":"g"},{"s":31.47,"d":-156.3,"c":"r"},{"s":31.51,"d":-147.5,"c":"b"},{"s":31.42,"d":-171.3,"c":"g"},{"s":31.48,"d":-149.2,"c":"y"},{"s":31.55,"d":-178,"c":"b"},{"s":31.56,"d":-179.7,"c":"r"},{"s":31.48,"d":-180.1,"c":"r"},{"s":31.53,"d":-185.2,"c":"r"},{"s":31.53,"d":-190.1,"c":"y"},{"s":31.6,"d":-191.6,"c":"g"},{"s":31.59,"d":-198.2,"c":"b"},{"s":31.64,"d":-198.2,"c":"k"},{"s":31.64,"d":-199.5,"c":"b"},{"s":31.42,"d":-196.5,"c":"k"},{"s":31.42,"d":-193.4,"c":"r"},{"s":31.46,"d":-197.4,"c":"y"},{"s":31.39,"d":-193.8,"c":"b"},{"s":31.38,"d":-189,"c":"g"},{"s":31.31,"d":-193.4,"c":"y"},{"s":31.22,"d":-191.2,"c":"k"},{"s":31.13,"d":-190.7,"c":"g"},{"s":31.23,"d":-191.6,"c":"g"},{"s":31.22,"d":-193.5,"c":"b"},{"s":31.17,"d":-196.7,"c":"r"},{"s":31.11,"d":-198.2,"c":"k"},{"s":31.05,"d":-200,"c":"k"},{"s":31.08,"d":-195.1,"c":"y"},{"s":31.22,"d":-185.2,"c":"k"},{"s":31.2,"d":-184.5,"c":"k"},{"s":31.15,"d":-182.3,"c":"b"},{"s":31.09,"d":-180.1,"c":"b"},{"s":31.09,"d":-174.6,"c":"y"},{"s":31.1,"d":-171.7,"c":"k"},{"s":31.13,"d":-168.7,"c":"k"},{"s":31.06,"d":-173.9,"c":"y"},{"s":31.05,"d":-182.8,"c":"b"},{"s":30.95,"d":-181.2,"c":"k"},{"s":30.97,"d":-185.6,"c":"b"},{"s":30.86,"d":-195.6,"c":"g"},{"s":30.86,"d":-191.6,"c":"k"},{"s":30.93,"d":-186.3,"c":"b"},{"s":31.0,"d":-189,"c":"y"},{"s":30.92,"d":-198.2,"c":"r"},{"s":30.86,"d":-201.1,"c":"b"},{"s":30.85,"d":-200,"c":"k"},{"s":30.83,"d":-203.3,"c":"b"},{"s":30.84,"d":-205.5,"c":"y"},{"s":30.59,"d":-204.4,"c":"r"},{"s":30.67,"d":-205.5,"c":"k"},{"s":30.76,"d":-202.5,"c":"r"},{"s":30.91,"d":-202.5,"c":"b"},
{"s":32.1,"d":-51,"c":"g"},{"s":32.86,"d":-49.9,"c":"k"},{"s":33.97,"d":-69.3,"c":"k"},{"s":34.05,"d":-94.7,"c":"r"},{"s":33.97,"d":-98,"c":"b"},{"s":33.97,"d":-106.6,"c":"b"},{"s":33.97,"d":-101.8,"c":"y"},{"s":34.19,"d":-103.3,"c":"r"},{"s":33.68,"d":-105.9,"c":"g"},{"s":33.84,"d":-105.7,"c":"k"},{"s":33.97,"d":-113.5,"c":"k"},{"s":33.96,"d":-115.5,"c":"r"},{"s":34.13,"d":-113.2,"c":"k"},{"s":34.2,"d":-116.8,"c":"y"},{"s":33.82,"d":-122,"c":"r"},{"s":33.92,"d":-123.8,"c":"g"},{"s":33.97,"d":-119.4,"c":"y"},{"s":33.84,"d":-126.1,"c":"y"},{"s":33.94,"d":-128.7,"c":"r"},{"s":33.97,"d":-132.7,"c":"k"},{"s":34.01,"d":-129.4,"c":"k"},{"s":34.16,"d":-129.4,"c":"k"},{"s":34.21,"d":-131.1,"c":"r"},{"s":34.25,"d":-131.6,"c":"r"},{"s":34.28,"d":-131.8,"c":"r"},{"s":34.28,"d":-128.3,"c":"y"},{"s":34.25,"d":-122.3,"c":"g"},{"s":34.3,"d":-122.7,"c":"b"},{"s":34.35,"d":-123.8,"c":"b"},{"s":34.35,"d":-130.5,"c":"y"},{"s":34.37,"d":-135.5,"c":"g"},{"s":34.42,"d":-134.4,"c":"k"},{"s":34.39,"d":-139.7,"c":"r"},{"s":34.44,"d":-152.5,"c":"r"},{"s":34.52,"d":-159.2,"c":"y"},{"s":34.49,"d":-166.9,"c":"g"},{"s":34.54,"d":-172.4,"c":"k"},{"s":34.46,"d":-176.2,"c":"g"},{"s":34.4,"d":-179.5,"c":"b"},{"s":34.36,"d":-179.7,"c":"b"},{"s":34.32,"d":-179.5,"c":"g"},{"s":34.26,"d":-178.4,"c":"b"},{"s":34.2,"d":-177.9,"c":"g"},{"s":34.19,"d":-176.4,"c":"b"},{"s":34.08,"d":-174,"c":"g"},{"s":33.97,"d":-170.2,"c":"y"},{"s":33.96,"d":-165.2,"c":"y"},{"s":33.87,"d":-161.8,"c":"y"},{"s":33.89,"d":-156.3,"c":"k"},{"s":33.88,"d":-157.6,"c":"k"},{"s":33.68,"d":-170.9,"c":"g"},{"s":33.7,"d":-172.4,"c":"y"},{"s":33.68,"d":-161.4,"c":"b"},{"s":33.68,"d":-139.7,"c":"b"},{"s":33.69,"d":-148.6,"c":"y"},{"s":33.81,"d":-136.6,"c":"k"},{"s":33.94,"d":-133.8,"c":"k"},{"s":34.51,"d":-115,"c":"r"},{"s":34.54,"d":-123.2,"c":"y"},{"s":34.48,"d":-125.4,"c":"r"},{"s":33.5,"d":-120.1,"c":"r"},{"s":33.37,"d":-111.3,"c":"g"},{"s":33.37,"d":-117.9,"c":"k"},{"s":33.41,"d":-123.2,"c":"b"},{"s":33.38,"d":-145.3,"c":"g"},{"s":33.39,"d":-141.9,"c":"y"},{"s":33.37,"d":-139.5,"c":"k"},{"s":33.39,"d":-172,"c":"k"},{"s":33.28,"d":-192.3,"c":"b"},{"s":32.71,"d":-197.4,"c":"r"},{"s":32.82,"d":-203.3,"c":"g"},{"s":33.42,"d":-205.5,"c":"k"},{"s":33.68,"d":-203.3,"c":"b"},{"s":32.5,"d":-132.7,"c":"k"},{"s":32.48,"d":-169.5,"c":"k"},{"s":32.43,"d":-136.6,"c":"b"},{"s":32.28,"d":-141.3,"c":"g"},{"s":32.53,"d":-145.5,"c":"g"},{"s":32.57,"d":-140,"c":"y"},{"s":32.67,"d":-165.3,"c":"y"},{"s":32.72,"d":-148.1,"c":"y"},{"s":32.61,"d":-124.9,"c":"g"},{"s":32.6,"d":-119.2,"c":"b"},{"s":32.04,"d":-121.2,"c":"k"},{"s":32.13,"d":-107.3,"c":"k"},{"s":32.0,"d":-111.3,"c":"k"},{"s":31.95,"d":-125.8,"c":"b"},{"s":31.77,"d":-135.3,"c":"k"},{"s":31.69,"d":-132.7,"c":"b"},{"s":31.9,"d":-142.2,"c":"y"},{"s":31.86,"d":-145.9,"c":"g"},{"s":32.17,"d":-124.3,"c":"y"},{"s":31.73,"d":-158.1,"c":"k"},{"s":31.52,"d":-164.3,"c":"g"},{"s":32.09,"d":-180.1,"c":"g"},{"s":31.81,"d":-198.9,"c":"k"},{"s":32.05,"d":-219.2,"c":"g"},{"s":32.14,"d":-229.4,"c":"y"},{"s":33.32,"d":-241.9,"c":"g"},{"s":32.89,"d":-258,"c":"g"},{"s":32.75,"d":-265.4,"c":"r"},{"s":33.42,"d":-268.2,"c":"g"},{"s":33.68,"d":-275.5,"c":"k"},{"s":33.42,"d":-206.6,"c":"k"},
{"s":30.56,"d":-304.4,"c":"g"},{"s":30.86,"d":-284.8,"c":"g"},{"s":30.88,"d":-272.2,"c":"g"},{"s":30.92,"d":-266.5,"c":"r"},{"s":31.06,"d":-265.4,"c":"b"},{"s":31.23,"d":-267.1,"c":"b"},{"s":31.44,"d":-268.1,"c":"b"},{"s":31.49,"d":-257.6,"c":"g"},{"s":30.85,"d":-259.2,"c":"y"},{"s":30.86,"d":-254.8,"c":"b"},{"s":30.88,"d":-253,"c":"b"},{"s":30.83,"d":-248.3,"c":"r"},{"s":30.81,"d":-242.4,"c":"g"},{"s":30.85,"d":-238.2,"c":"g"},{"s":30.94,"d":-237.5,"c":"g"},{"s":30.68,"d":-247,"c":"b"},{"s":30.8,"d":-230.2,"c":"r"},{"s":30.76,"d":-228.3,"c":"b"},{"s":30.91,"d":-225.4,"c":"b"},{"s":30.93,"d":-221.6,"c":"b"},{"s":30.85,"d":-218.8,"c":"b"},{"s":30.76,"d":-218.1,"c":"y"},{"s":30.79,"d":-217.2,"c":"g"},{"s":30.74,"d":-210.6,"c":"k"},{"s":31.03,"d":-228,"c":"r"},{"s":31.04,"d":-234.2,"c":"g"},{"s":31.11,"d":-228.3,"c":"b"},{"s":31.15,"d":-232.5,"c":"b"},{"s":31.19,"d":-223.8,"c":"r"},{"s":31.21,"d":-249.2,"c":"g"},{"s":31.27,"d":-236.4,"c":"g"},{"s":31.22,"d":-239.3,"c":"y"},{"s":31.3,"d":-231.4,"c":"g"},{"s":31.31,"d":-228.5,"c":"y"},{"s":31.33,"d":-222.5,"c":"g"},{"s":31.35,"d":-221.6,"c":"g"},{"s":31.36,"d":-241.9,"c":"b"},{"s":31.36,"d":-245.2,"c":"b"},{"s":31.47,"d":-246.4,"c":"g"},{"s":31.39,"d":-231.4,"c":"g"},{"s":31.5,"d":-230.2,"c":"r"},{"s":31.42,"d":-221.2,"c":"y"},{"s":31.38,"d":-217,"c":"y"},{"s":31.4,"d":-220.4,"c":"b"},{"s":31.49,"d":-216.9,"c":"g"},{"s":31.5,"d":-213.7,"c":"b"},{"s":31.45,"d":-211.5,"c":"b"},{"s":31.69,"d":-207.7,"c":"r"},{"s":31.64,"d":-208.8,"c":"k"},{"s":31.53,"d":-208.4,"c":"g"},{"s":31.42,"d":-215,"c":"b"},{"s":31.36,"d":-212.1,"c":"y"},{"s":31.32,"d":-215.9,"c":"g"},{"s":31.41,"d":-213.9,"c":"r"},{"s":31.41,"d":-211.5,"c":"k"},{"s":31.31,"d":-212.8,"c":"b"},{"s":31.3,"d":-210.6,"c":"k"},{"s":31.3,"d":-209.9,"c":"r"},{"s":31.2,"d":-210.6,"c":"g"},{"s":31.25,"d":-216.6,"c":"y"},{"s":31.17,"d":-213.9,"c":"b"},{"s":31.15,"d":-217.7,"c":"g"},{"s":31.1,"d":-215,"c":"y"},{"s":31.06,"d":-217.2,"c":"y"},{"s":31.01,"d":-210.6,"c":"g"},{"s":31.09,"d":-209.9,"c":"k"},{"s":30.99,"d":-213.2,"c":"k"},{"s":31.0,"d":-214.8,"c":"y"},{"s":30.95,"d":-211,"c":"g"},{"s":30.93,"d":-214.3,"c":"g"},{"s":30.89,"d":-213.2,"c":"y"},{"s":30.94,"d":-216.6,"c":"k"},{"s":30.86,"d":-213.7,"c":"g"},{"s":30.83,"d":-210,"c":"y"},{"s":30.73,"d":-212.1,"c":"k"},{"s":30.72,"d":-207.7,"c":"b"},{"s":30.8,"d":-207.5,"c":"y"},{"s":30.89,"d":-208.4,"c":"b"},{"s":31.07,"d":-220.1,"c":"y"},{"s":31.09,"d":-216.6,"c":"y"},{"s":31.0,"d":-206,"c":"r"},{"s":30.95,"d":-205,"c":"y"},{"s":31.18,"d":-206,"c":"b"},{"s":31.27,"d":-206,"c":"r"},{"s":31.38,"d":-206,"c":"y"},{"s":31.48,"d":-207,"c":"b"}
],
"p3p":[
{"s":29.16,"d":-5.6,"c":"k"},{"s":29.27,"d":-7.8,"c":"k"},{"s":29.13,"d":-8.5,"c":"k"},{"s":29.23,"d":-12.1,"c":"k"},{"s":29.83,"d":-6.7,"c":"k"},{"s":29.92,"d":-4.6,"c":"k"},{"s":30.39,"d":-5.2,"c":"k"},{"s":31.4,"d":-14.9,"c":"k"},{"s":31.73,"d":-5.6,"c":"k"},{"s":31.89,"d":-5.6,"c":"k"},{"s":32.62,"d":-20,"c":"k"},
{"s":28.5,"d":-18.5,"c":"k"},{"s":28.52,"d":-21.8,"c":"k"},{"s":28.54,"d":-17.4,"c":"k"},{"s":28.57,"d":-23.9,"c":"k"},{"s":28.59,"d":-20.7,"c":"k"},{"s":28.61,"d":-18.5,"c":"k"},{"s":28.64,"d":-25,"c":"k"},{"s":28.66,"d":-28.2,"c":"k"},{"s":28.68,"d":-21.8,"c":"k"},{"s":28.71,"d":-23.9,"c":"k"},{"s":28.72,"d":-26.1,"c":"k"},{"s":28.74,"d":-22.8,"c":"k"},{"s":28.75,"d":-18.5,"c":"k"},{"s":28.77,"d":-27.1,"c":"k"},{"s":28.79,"d":-30.4,"c":"k"},{"s":28.8,"d":-25,"c":"k"},{"s":28.83,"d":-28.2,"c":"k"},{"s":28.85,"d":-31.4,"c":"k"},{"s":28.86,"d":-27.1,"c":"k"},{"s":28.87,"d":-34.7,"c":"k"},{"s":28.88,"d":-29.3,"c":"k"},{"s":28.9,"d":-32.5,"c":"k"},{"s":28.91,"d":-35.8,"c":"k"},{"s":28.92,"d":-37.9,"c":"k"},{"s":28.93,"d":-33.6,"c":"k"},{"s":28.94,"d":-40.1,"c":"k"},{"s":28.96,"d":-36.8,"c":"k"},{"s":28.97,"d":-31.4,"c":"k"},{"s":28.98,"d":-28.2,"c":"k"},{"s":28.99,"d":-39,"c":"k"},{"s":29.0,"d":-34.7,"c":"k"},{"s":29.02,"d":-29.3,"c":"k"},{"s":29.05,"d":-39,"c":"k"},{"s":29.08,"d":-23.9,"c":"k"},{"s":29.09,"d":-39,"c":"k"},{"s":29.11,"d":-16.8,"c":"k"},{"s":28.8,"d":-43.3,"c":"k"},{"s":28.68,"d":-34.7,"c":"k"},{"s":28.99,"d":-46.5,"c":"k"},{"s":29.02,"d":-47,"c":"k"},{"s":29.05,"d":-47.5,"c":"k"},{"s":29.09,"d":-47.6,"c":"k"},{"s":29.13,"d":-47.6,"c":"k"},{"s":29.19,"d":-48.2,"c":"k"},{"s":29.21,"d":-36.8,"c":"k"},{"s":29.25,"d":-35.3,"c":"k"},{"s":29.3,"d":-34.7,"c":"k"},{"s":29.33,"d":-32.5,"c":"k"},{"s":29.37,"d":-31,"c":"k"},{"s":29.4,"d":-29.7,"c":"k"},{"s":29.44,"d":-27.6,"c":"k"},{"s":28.83,"d":-59.5,"c":"k"},{"s":28.85,"d":-57.3,"c":"k"},{"s":28.87,"d":-56.2,"c":"k"},{"s":28.9,"d":-58.4,"c":"k"},{"s":28.93,"d":-60.5,"c":"k"},{"s":28.95,"d":-62.7,"c":"k"},{"s":28.97,"d":-63.8,"c":"k"},{"s":28.91,"d":-55.1,"c":"k"},{"s":28.98,"d":-69.1,"c":"k"},{"s":28.93,"d":-61.6,"c":"k"},{"s":28.87,"d":-59.9,"c":"k"},{"s":28.85,"d":-54.1,"c":"k"},{"s":28.92,"d":-51.9,"c":"k"},{"s":28.77,"d":-18.1,"c":"k"},
{"s":29.22,"d":-16.8,"c":"g"},{"s":28.5,"d":-32.1,"c":"y"},{"s":28.56,"d":-54.7,"c":"b"},{"s":29.28,"d":-60.1,"c":"y"},{"s":29.97,"d":-68.7,"c":"b"},{"s":30.88,"d":-74.1,"c":"y"},{"s":28.87,"d":-79.9,"c":"r"},{"s":29.45,"d":-75.6,"c":"y"},{"s":29.36,"d":-78.4,"c":"y"},{"s":29.34,"d":-82.7,"c":"g"},{"s":29.25,"d":-87,"c":"y"},{"s":29.32,"d":-85.3,"c":"b"},{"s":29.34,"d":-89.2,"c":"y"},{"s":29.29,"d":-90.7,"c":"b"},{"s":29.17,"d":-90.3,"c":"b"},{"s":29.12,"d":-92.2,"c":"b"},{"s":28.98,"d":-92.4,"c":"r"},{"s":28.93,"d":-96.1,"c":"g"},{"s":29.43,"d":-93.3,"c":"g"},{"s":29.96,"d":-85.3,"c":"r"},{"s":29.93,"d":-93.9,"c":"r"},{"s":30.34,"d":-95,"c":"r"},{"s":30.56,"d":-102.5,"c":"r"},{"s":28.64,"d":-103.6,"c":"r"},{"s":28.66,"d":-115.5,"c":"r"},{"s":28.75,"d":-126.2,"c":"b"},{"s":28.79,"d":-134.2,"c":"r"},{"s":29.44,"d":-132.7,"c":"y"},{"s":29.55,"d":-136.1,"c":"b"},{"s":30.93,"d":-118.9,"c":"r"},{"s":31.42,"d":-136.3,"c":"r"},{"s":31.7,"d":-118,"c":"r"},{"s":31.7,"d":-136.3,"c":"r"},{"s":28.86,"d":-143.5,"c":"r"},{"s":28.9,"d":-157,"c":"r"},{"s":29.09,"d":-151,"c":"r"},{"s":29.16,"d":-153.1,"c":"g"},{"s":29.34,"d":-163.5,"c":"y"},{"s":29.41,"d":-161.1,"c":"y"},{"s":29.44,"d":-158.5,"c":"k"},{"s":29.36,"d":-165.7,"c":"r"},{"s":28.9,"d":-168.2,"c":"g"},{"s":28.92,"d":-171.5,"c":"g"},{"s":28.93,"d":-172.1,"c":"b"},{"s":28.97,"d":-167.2,"c":"r"},{"s":28.97,"d":-169.7,"c":"r"},{"s":29.03,"d":-180.1,"c":"r"},{"s":29.14,"d":-186.5,"c":"b"},{"s":29.17,"d":-193,"c":"g"},{"s":29.22,"d":-196.2,"c":"g"},{"s":29.26,"d":-196.2,"c":"g"},{"s":29.33,"d":-196.2,"c":"g"},{"s":29.27,"d":-200.5,"c":"y"},{"s":29.31,"d":-192.6,"c":"b"},{"s":29.33,"d":-182.9,"c":"g"},{"s":29.34,"d":-176.8,"c":"g"},{"s":29.39,"d":-176.8,"c":"b"},{"s":29.35,"d":-181.8,"c":"b"},{"s":29.43,"d":-180.5,"c":"g"},{"s":29.44,"d":-185.5,"c":"r"},{"s":29.44,"d":-187.6,"c":"r"},{"s":29.49,"d":-201.2,"c":"b"},{"s":29.94,"d":-158.5,"c":"r"},{"s":29.99,"d":-160.7,"c":"r"},{"s":30.33,"d":-150.4,"c":"r"},{"s":30.13,"d":-162,"c":"g"},{"s":30.07,"d":-165,"c":"g"},{"s":30.18,"d":-172.1,"c":"g"},{"s":29.67,"d":-167.2,"c":"b"},{"s":29.73,"d":-171.9,"c":"y"},{"s":30.29,"d":-171.9,"c":"b"},{"s":30.32,"d":-160.3,"c":"y"},{"s":30.36,"d":-165,"c":"y"},{"s":30.43,"d":-168.2,"c":"y"},{"s":30.49,"d":-174.7,"c":"y"},{"s":30.67,"d":-155.7,"c":"g"},{"s":30.99,"d":-160.7,"c":"y"},{"s":31.11,"d":-164.6,"c":"y"},{"s":31.24,"d":-164.6,"c":"y"},{"s":31.17,"d":-181.2,"c":"r"},{"s":29.87,"d":-196.2,"c":"g"},{"s":29.89,"d":-195.8,"c":"b"},{"s":30.01,"d":-193.6,"c":"g"},{"s":30.52,"d":-193,"c":"b"},{"s":30.77,"d":-185.5,"c":"b"},{"s":30.82,"d":-187.2,"c":"b"},{"s":31.36,"d":-192.6,"c":"b"},{"s":31.48,"d":-184.4,"c":"b"},{"s":31.6,"d":-156.8,"c":"y"},{"s":31.68,"d":-153.8,"c":"y"},{"s":31.68,"d":-163.5,"c":"b"},{"s":31.67,"d":-165,"c":"y"},{"s":31.66,"d":-171.5,"c":"y"},{"s":31.69,"d":-174,"c":"r"},{"s":31.9,"d":-163.5,"c":"k"},{"s":31.94,"d":-174.7,"c":"k"},{"s":31.95,"d":-158.5,"c":"r"},{"s":31.98,"d":-167.2,"c":"g"},{"s":32.04,"d":-163.5,"c":"b"},{"s":32.14,"d":-152.5,"c":"b"},{"s":32.17,"d":-165.6,"c":"y"},{"s":32.27,"d":-154.2,"c":"y"},{"s":32.35,"d":-165.6,"c":"y"},{"s":32.39,"d":-151,"c":"b"},{"s":32.51,"d":-153.1,"c":"b"},{"s":32.62,"d":-155.3,"c":"r"},{"s":32.59,"d":-165.6,"c":"g"},{"s":32.45,"d":-182.6,"c":"r"},{"s":32.8,"d":-153.8,"c":"y"},{"s":32.87,"d":-149.1,"c":"g"},{"s":33.0,"d":-149.1,"c":"b"},{"s":32.93,"d":-161.8,"c":"y"},{"s":33.03,"d":-134.2,"c":"r"},{"s":32.99,"d":-193.6,"c":"r"},{"s":31.68,"d":-70.7,"c":"y"},{"s":31.95,"d":-70.9,"c":"g"},{"s":32.31,"d":-73.5,"c":"g"},{"s":32.75,"d":-76.3,"c":"y"},{"s":32.21,"d":-105.3,"c":"b"},
{"s":29.24,"d":-221,"c":"r"},{"s":29.32,"d":-227.5,"c":"r"},{"s":29.23,"d":-229.2,"c":"b"},{"s":29.15,"d":-230.9,"c":"b"},{"s":29.08,"d":-231.8,"c":"b"},{"s":29.0,"d":-233.1,"c":"g"},{"s":28.91,"d":-232.8,"c":"g"},{"s":28.91,"d":-234.6,"c":"g"},{"s":29.6,"d":-244,"c":"y"},{"s":29.77,"d":-235.1,"c":"b"},{"s":29.91,"d":-235.8,"c":"b"},{"s":30.24,"d":-240.8,"c":"g"},{"s":30.62,"d":-239.7,"c":"g"},{"s":30.72,"d":-236.5,"c":"g"},{"s":31.05,"d":-230.3,"c":"r"},{"s":31.55,"d":-240.8,"c":"g"},{"s":31.83,"d":-242.3,"c":"g"},{"s":31.94,"d":-254.6,"c":"y"},{"s":32.23,"d":-252.6,"c":"y"},{"s":31.93,"d":-210.9,"c":"b"}
]
},
"hconcat":[
{
"width":320,"height":623,
"title":{"text":"seno de Reloncaví y golfo de Ancud","offset":11},
"layer":[
{"data":{"name":"p1p"},"transform":[{"filter":"datum.c!='k'"}],"mark":{"type":"circle","size":40,"opacity":1},
"encoding":{"x":{"field":"s","type":"quantitative","scale":{"domain":[30.5,35],"nice":false,"zero":false},"axis":{"orient":"top","values":[30.5,31,31.5,32,32.5,33,33.5,34,34.5,35],"labelExpr":"''+datum.value","tickSize":10,"labelPadding":4,"offset":-14,"title":null}},
"y":{"field":"d","type":"quantitative","scale":{"domain":[-400,0],"nice":false,"zero":false},"axis":{"orient":"left","values":[-400,-350,-300,-250,-200,-150,-100,-50,0],"labelExpr":"''+datum.value","tickSize":7,"labelPadding":2,"title":null}},
"color":{"field":"c","type":"nominal","scale":{"domain":["y","g","b","r"],"range":["#ffff00","#00ff00","#0000ff","#ff0000"]},"legend":null}}},
{"data":{"name":"p1p"},"transform":[{"filter":"datum.c=='k'"}],"mark":{"type":"point","shape":"diamond","filled":false,"color":"black","size":26,"strokeWidth":1.6},
"encoding":{"x":{"field":"s","type":"quantitative","axis":null},"y":{"field":"d","type":"quantitative","axis":null}}},
{"data":{"name":"p1l"},"mark":{"type":"line","color":"black","strokeWidth":1},
"encoding":{"x":{"field":"s","type":"quantitative","axis":null},"y":{"field":"d","type":"quantitative","axis":null},"detail":{"field":"id"},"order":{"field":"i"}}},
{"data":{"name":"p1r"},"mark":{"type":"rect","fillOpacity":0,"stroke":"#333333","strokeWidth":1.5,"strokeDash":[18,8]},
"encoding":{"x":{"field":"s","type":"quantitative","axis":{"orient":"bottom","values":[31.64,32.85,34.09],"labels":false,"tickSize":7,"title":null}},"x2":{"field":"s2"},
"y":{"field":"d","type":"quantitative","axis":{"orient":"right","values":[-400,-350,-300,-250,-200,-150,-100,-50,0],"labels":false,"tickSize":7,"domainColor":"#555","tickColor":"#555","title":null}},"y2":{"field":"d2"}}}
],
"resolve":{"axis":{"x":"independent","y":"independent"}}
},
{
"width":354.5,"height":620,
"title":{"text":"canal Moraleda","offset":7},
"layer":[
{"data":{"name":"p2p"},"transform":[{"filter":"datum.c!='k'"}],"mark":{"type":"circle","size":40,"opacity":1},
"encoding":{"x":{"field":"s","type":"quantitative","scale":{"domain":[30.5,35],"nice":false,"zero":false},"axis":{"orient":"top","values":[30.5,31,31.5,32,32.5,33,33.5,34,34.5,35],"labelExpr":"''+datum.value","tickSize":9,"labelPadding":7,"offset":-12,"title":null}},
"y":{"field":"d","type":"quantitative","scale":{"domain":[-400,10.6],"nice":false,"zero":false},"axis":{"orient":"left","values":[-400,-350,-300,-250,-200,-150,-100,-50,0],"labelExpr":"''+datum.value","tickSize":7,"labelPadding":2,"domainWidth":2,"title":null}},
"color":{"field":"c","type":"nominal","scale":{"domain":["y","g","b","r"],"range":["#ffff00","#00ff00","#0000ff","#ff0000"]},"legend":null}}},
{"data":{"name":"p2p"},"transform":[{"filter":"datum.c=='k'"}],"mark":{"type":"point","shape":"diamond","filled":false,"color":"black","size":26,"strokeWidth":1.6},
"encoding":{"x":{"field":"s","type":"quantitative","axis":null},"y":{"field":"d","type":"quantitative","axis":null}}},
{"data":{"name":"p2l"},"mark":{"type":"line","color":"black","strokeWidth":1},
"encoding":{"x":{"field":"s","type":"quantitative","axis":null},"y":{"field":"d","type":"quantitative","axis":null},"detail":{"field":"id"},"order":{"field":"i"}}},
{"data":{"name":"p2r"},"mark":{"type":"rect","fillOpacity":0,"stroke":"#333333","strokeWidth":1.5,"strokeDash":[18,8]},
"encoding":{"x":{"field":"s","type":"quantitative","axis":{"orient":"bottom","labels":false,"ticks":false,"title":null,"domainWidth":2}},"x2":{"field":"s2"},
"y":{"field":"d","type":"quantitative","axis":{"orient":"right","values":[-400,-350,-300,-250,-200,-150,-100,-50,0],"labels":false,"tickSize":8,"domainWidth":2,"title":null}},"y2":{"field":"d2"}}}
],
"resolve":{"axis":{"x":"independent","y":"independent"}}
},
{
"width":318,"height":625,
"title":{"text":"seno Aysén","offset":10},
"layer":[
{"data":{"name":"p3p"},"transform":[{"filter":"datum.c!='k'"}],"mark":{"type":"circle","size":40,"opacity":1},
"encoding":{"x":{"field":"s","type":"quantitative","scale":{"domain":[28.5,33],"nice":false,"zero":false},"axis":{"orient":"top","values":[28.5,29,29.5,30,30.5,31,31.5,32,32.5,33],"labelExpr":"''+datum.value","tickSize":8,"labelPadding":3,"offset":-6,"title":null}},
"y":{"field":"d","type":"quantitative","scale":{"domain":[-400,3.9],"nice":false,"zero":false},"axis":{"orient":"left","values":[-400,-350,-300,-250,-200,-150,-100,-50,0],"labelExpr":"''+datum.value","tickSize":7,"labelPadding":2,"domainColor":"#555","title":null}},
"color":{"field":"c","type":"nominal","scale":{"domain":["y","g","b","r"],"range":["#ffff00","#00ff00","#0000ff","#ff0000"]},"legend":null}}},
{"data":{"name":"p3p"},"transform":[{"filter":"datum.c=='k'"}],"mark":{"type":"point","shape":"diamond","filled":false,"color":"black","size":26,"strokeWidth":1.6},
"encoding":{"x":{"field":"s","type":"quantitative","axis":null},"y":{"field":"d","type":"quantitative","axis":null}}},
{"data":{"name":"p3l"},"mark":{"type":"line","color":"black","strokeWidth":1},
"encoding":{"x":{"field":"s","type":"quantitative","axis":null},"y":{"field":"d","type":"quantitative","axis":null},"detail":{"field":"id"},"order":{"field":"i"}}},
{"data":{"name":"p3r"},"mark":{"type":"rect","fillOpacity":0,"stroke":"#333333","strokeWidth":1.5,"strokeDash":[18,8]},
"encoding":{"x":{"field":"s","type":"quantitative","axis":{"orient":"bottom","labels":false,"ticks":false,"title":null}},"x2":{"field":"s2"},
"y":{"field":"d","type":"quantitative","axis":{"orient":"right","values":[-400,-350,-300,-250,-200,-150,-100,-50,0],"labels":false,"tickSize":7,"domainColor":"#555","tickColor":"#555","title":null}},"y2":{"field":"d2"}}}
],
"resolve":{"axis":{"x":"independent","y":"independent"}}
}
]
}
